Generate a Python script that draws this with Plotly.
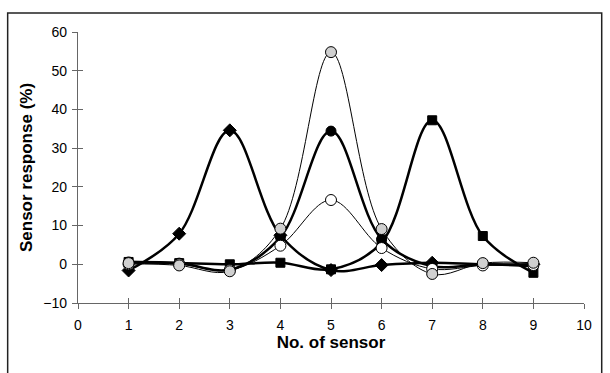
import plotly.graph_objects as go

sensors = [1, 2, 3, 4, 5, 6, 7, 8, 9]
diamond_vals = [-1.6, 7.9, 34.6, 7.5, -1.5, -0.2, 0.4, 0.0, 0.0]
square_vals = [0.6, 0.3, 0.0, 0.4, -1.3, 5.6, 37.2, 7.3, -2.2]
circle_vals = [0.6, 0.3, -1.4, 7.0, 34.4, 6.5, -0.5, 0.0, -0.5]
white_vals = [0.0, 0.0, -1.5, 4.8, 16.6, 4.2, -1.2, -0.3, -0.2]
grey_vals = [0.3, -0.3, -1.8, 9.2, 54.8, 9.1, -2.5, 0.3, 0.4]

x_ticks = list(range(0, 11))
y_ticks = list(range(-10, 61, 10))

fig = go.Figure()

def add(vals, symbol, fill, lw, msize):
    fig.add_trace(go.Scatter(
        x=sensors, y=vals, mode="lines+markers",
        line=dict(color="black", width=lw, shape="spline", smoothing=1.0),
        marker=dict(symbol=symbol, size=msize, color=fill,
                    line=dict(color="black", width=1)),
        showlegend=False, cliponaxis=False))

add(diamond_vals, "diamond", "black", 2.5, 10)
add(square_vals, "square", "black", 2.5, 9)
add(circle_vals, "circle", "black", 2.5, 10)
add(white_vals, "circle", "white", 1, 11)
add(grey_vals, "circle", "#d0d0d0", 1, 11)

font = "Liberation Sans, Arial, sans-serif"
axcol = "#666"
fig.update_layout(
    width=610, height=373,
    margin=dict(l=78, r=26, t=32, b=70),
    paper_bgcolor="white", plot_bgcolor="white",
    font=dict(family=font, size=14, color="black"),
    xaxis=dict(range=[0, 10], tickvals=x_ticks, showgrid=False, zeroline=False,
               showline=True, linecolor=axcol, linewidth=1.2,
               ticks="outside", ticklen=5, tickcolor=axcol, ticklabelstandoff=4,
               title=dict(text="<b>No. of sensor</b>", font=dict(size=17), standoff=0)),
    yaxis=dict(range=[-10, 60], tickvals=y_ticks, showgrid=False, zeroline=False,
               showline=True, linecolor=axcol, linewidth=1.2,
               ticks="outside", ticklen=5, tickcolor=axcol, ticklabelstandoff=2,
               title=dict(text="<b>Sensor response (%)</b>", font=dict(size=17), standoff=6)),
    xaxis2=dict(range=[0, 10], tickvals=x_ticks, overlaying="x", side="bottom",
                anchor="y", showgrid=False, zeroline=False, showticklabels=False,
                ticks="inside", ticklen=5, tickcolor=axcol, showline=False),
    yaxis2=dict(range=[-10, 60], tickvals=y_ticks, overlaying="y", side="left",
                anchor="x", showgrid=False, zeroline=False, showticklabels=False,
                ticks="inside", ticklen=5, tickcolor=axcol, showline=False),
    shapes=[dict(type="rect", xref="paper", yref="paper",
                 x0=-0.139, x1=1.035, y0=-0.5, y1=1.07,
                 line=dict(color="#222", width=1.5))],
)
fig.add_trace(go.Scatter(x=[None], y=[None], xaxis="x2", yaxis="y2",
                         showlegend=False, hoverinfo="skip"))

fig.write_html("out.html")
